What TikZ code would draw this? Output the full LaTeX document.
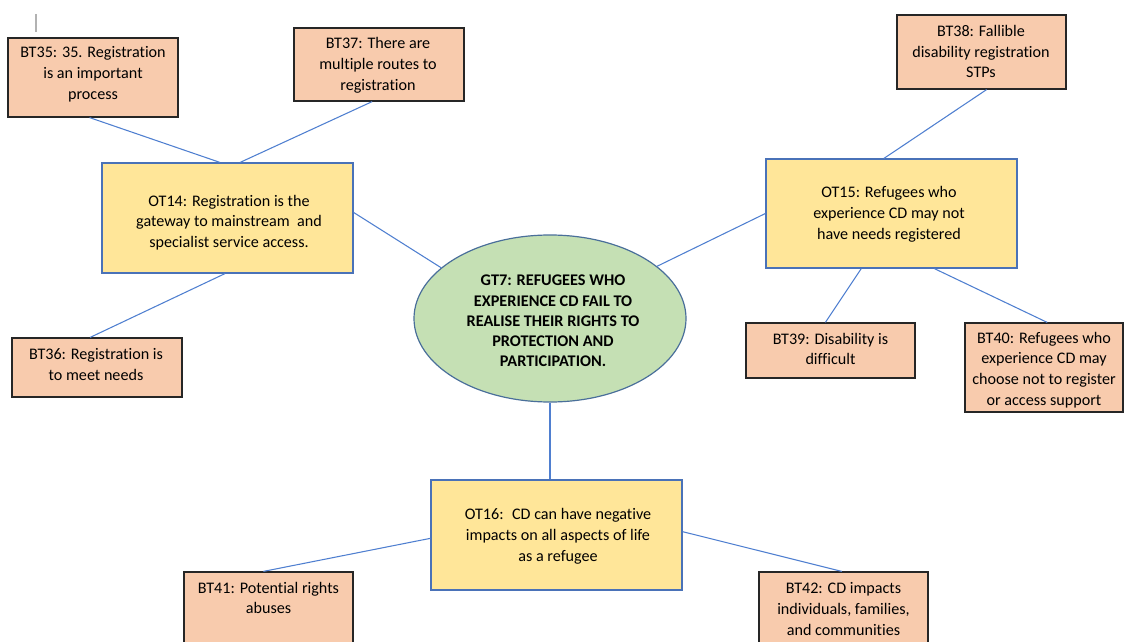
\documentclass[tikz,border=0pt]{standalone}
\usepackage{fontspec}
\setmainfont{Carlito}[Ligatures=NoCommon]
\usetikzlibrary{calc,shapes.geometric}
\definecolor{peach}{HTML}{F8CBAD}
\definecolor{gold}{HTML}{FFE699}
\definecolor{sage}{HTML}{C5E0B4}
\definecolor{linkblue}{HTML}{4F7FD0}
\definecolor{otborder}{HTML}{4A72B8}
\definecolor{ellborder}{HTML}{4A6F9A}
\tikzset{
  u/.style={x=0.75pt,y=-0.75pt},
  bsz/.style 2 args={minimum width={#1*0.75pt},minimum height={#2*0.75pt}},
  btbox/.style={draw=black!85,line width=0.9pt,fill=peach,inner sep=0pt},
  otbox/.style={draw=otborder,line width=0.9pt,fill=gold,inner sep=0pt},
  goal/.style={ellipse,draw=ellborder,line width=0.9pt,fill=sage,inner sep=0pt},
  txt/.style={align=center,inner sep=0pt,font=\fontsize{12.1}{15.6}\selectfont},
  btxt/.style={txt,font=\fontsize{12.2}{15.2}\selectfont\bfseries},
  conn/.style={draw=linkblue,line width=0.8pt},
}
\begin{document}
\begin{tikzpicture}[u]
\useasboundingbox (0,0) rectangle (1125,642);

% cursor mark
\draw[black!30,line width=0.8pt] (36,14) -- (36,32);

% central goal
\node[goal,bsz={272}{167}] (gt7) at (550,318.5) {};
\node[btxt] (gt7t) at (553,321) {GT7: REFUGEES WHO\\EXPERIENCE CD FAIL TO\\REALISE THEIR RIGHTS TO\\PROTECTION AND\\PARTICIPATION.};

% organising themes
\node[otbox,bsz={251}{110}] (ot14) at (227.5,218) {};
\node[txt] (ot14t) at (229,222.5) {OT14: Registration is the\\gateway to mainstream~ and\\specialist service access.};
\node[otbox,bsz={251}{109}] (ot15) at (891.5,213.5) {};
\node[txt] (ot15t) at (889,214) {OT15: Refugees who\\experience CD may not\\have needs registered};
\node[otbox,bsz={251}{110}] (ot16) at (556.5,535) {};
\node[txt] (ot16t) at (558,536) {OT16:~ CD can have negative\\impacts on all aspects of life\\as a refugee};

% basic themes
\node[btbox,bsz={170}{79}] (bt35) at (93,77.5) {};
\node[txt] (bt35t) at (93,74) {BT35: 35. Registration\\is an important\\process};
\node[btbox,bsz={170}{73}] (bt37) at (379,64.5) {};
\node[txt] (bt37t) at (378,65) {BT37: There are\\multiple routes to\\registration};
\node[btbox,bsz={170}{59}] (bt36) at (97,367.5) {};
\node[txt] (bt36t) at (96,364.5) {BT36: Registration is\\to meet needs};
\node[btbox,bsz={169}{74}] (bt38) at (981.5,52) {};
\node[txt] (bt38t) at (981,51.5) {BT38: Fallible\\disability registration\\STPs};
\node[btbox,bsz={169}{55}] (bt39) at (830.5,350.5) {};
\node[txt] (bt39t) at (830.5,349) {BT39: Disability is\\difficult};
\node[btbox,bsz={158}{89}] (bt40) at (1044,367.5) {};
\node[txt] (bt40t) at (1044,370) {BT40: Refugees who\\experience CD may\\choose not to register\\or access support};
\node[btbox,bsz={169}{90}] (bt41) at (268.5,617) {};
\node[txt] (bt41t) at (268.5,598) {BT41: Potential rights\\abuses};
\node[btbox,bsz={169}{90}] (bt42) at (843.5,617) {};
\node[txt] (bt42t) at (843.5,609) {BT42: CD impacts\\individuals, families,\\and communities};

% connectors
\draw[conn] ($(bt35.south west)!0.48!(bt35.south east)$) -- ($(ot14.north west)!0.47!(ot14.north east)$);
\draw[conn] ($(bt37.south west)!0.46!(bt37.south east)$) -- ($(ot14.north west)!0.55!(ot14.north east)$);
\draw[conn] ($(ot14.south west)!0.49!(ot14.south east)$) -- ($(bt36.north west)!0.46!(bt36.north east)$);
\draw[conn] ($(ot14.north east)!0.45!(ot14.south east)$) -- (gt7.155);
\draw[conn] (gt7.26) -- (ot15.west);
\draw[conn] ($(bt38.south west)!0.53!(bt38.south east)$) -- ($(ot15.north west)!0.47!(ot15.north east)$);
\draw[conn] ($(ot15.south west)!0.38!(ot15.south east)$) -- ($(bt39.north west)!0.47!(bt39.north east)$);
\draw[conn] ($(ot15.south west)!0.67!(ot15.south east)$) -- ($(bt40.north west)!0.52!(bt40.north east)$);
\draw[conn] (gt7.south) -- (gt7.south |- ot16.north);
\draw[conn] ($(ot16.north west)!0.53!(ot16.south west)$) -- ($(bt41.north west)!0.47!(bt41.north east)$);
\draw[conn] ($(ot16.north east)!0.47!(ot16.south east)$) -- ($(bt42.north west)!0.49!(bt42.north east)$);
\end{tikzpicture}
\end{document}
